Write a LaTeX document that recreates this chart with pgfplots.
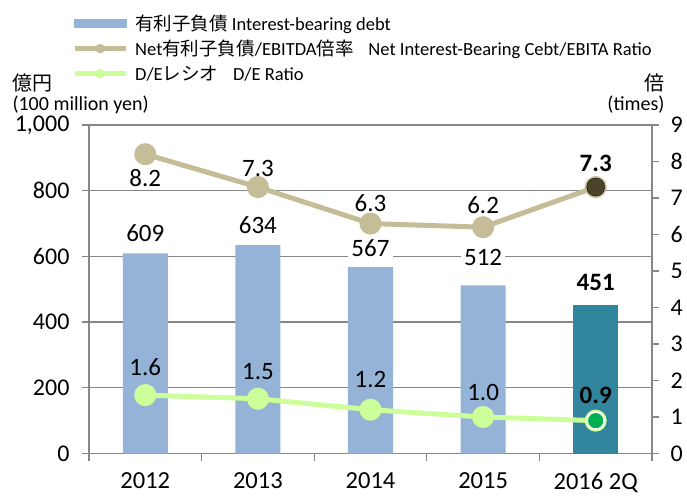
\documentclass[border=0pt]{standalone}
\usepackage{fontspec}
\setmainfont{Carlito}
\newfontfamily\jp{Noto Sans CJK JP}
\usepackage{pgfplots}
\pgfplotsset{compat=1.18}
\usepackage{pgfplotstable}

\definecolor{barblue}{HTML}{95B3D7}
\definecolor{barteal}{HTML}{31859C}
\definecolor{tanc}{HTML}{C4BD97}
\definecolor{darkc}{HTML}{4A452A}
\definecolor{lgreen}{HTML}{CCFF99}
\definecolor{dgreen}{HTML}{00B050}
\definecolor{gridc}{HTML}{878787}

% debt in 100 million yen, dy = label offset in pt
\pgfplotstableread{
x y dy
0 609 20
1 634 20
2 567 19
3 512 28
4 451 23
}\debt
\pgfplotstableread{
x y dy
0 8.2 -24
1 7.3 19
2 6.3 20
3 6.2 22
4 7.3 24
}\net
\pgfplotstableread{
x y dy
0 1.6 28
1 1.5 27
2 1.2 30
3 1.0 25
4 0.9 25
}\de

\tikzset{lab/.style={font=\fontsize{25}{30}\selectfont, text=black, anchor=center}}

\begin{document}
\begin{tikzpicture}
\pgfplotsset{
  base/.style={
    scale only axis, width=563pt, height=328.5pt,
    xmin=-0.5, xmax=4.5, clip=false,
    tick align=outside, major tick length=7pt, minor tick length=7pt,
    tick label style={font=\fontsize{24}{28}\selectfont},
    /pgf/number format/assume math mode=true,
    axis line style={-, draw=gridc, line width=1.3pt},
    every tick/.style={draw=gridc, line width=1.3pt},
  },
}
\begin{axis}[base,
  axis x line*=bottom, axis y line*=left,
  ymin=0, ymax=1000, ytick={0,200,...,1000},
  scaled y ticks=false, /pgf/number format/1000 sep={,},
  ymajorgrids, grid style={gridc, line width=1.3pt},
  xtick={0,...,4}, xticklabels={2012,2013,2014,2015,2016 2Q},
  minor xtick={-0.5,0.5,...,4.5},
  major x tick style={draw=none},
  xticklabel style={yshift=-9pt, font=\fontsize{24.5}{26}\selectfont},
  yticklabel style={xshift=-9pt},
]
\addplot[ybar, bar width=0.4, bar shift=0pt, fill=barblue, draw=none,
  skip coords between index={4}{5},
  nodes near coords={\pgfmathprintnumber[fixed,precision=0]{\pgfplotspointmeta}},
  visualization depends on={\thisrow{dy}\as\labdy},
  every node near coord/.append style={lab, fill=white, inner sep=3pt, yshift=\labdy pt}]
  table[x=x,y=y]{\debt};
\addplot[ybar, bar width=0.4, bar shift=0pt, fill=barteal, draw=none,
  skip coords between index={0}{4},
  nodes near coords={\pgfmathprintnumber[fixed,precision=0]{\pgfplotspointmeta}},
  visualization depends on={\thisrow{dy}\as\labdy},
  every node near coord/.append style={lab, font=\fontsize{25}{30}\selectfont\bfseries, yshift=\labdy pt}]
  table[x=x,y=y]{\debt};
\end{axis}

\begin{axis}[base,
  axis y line*=right, axis x line=none,
  ymin=0, ymax=9, ytick={0,...,9},
  yticklabel style={xshift=8pt},
  legend cell align=left,
  legend style={draw=none, fill=none, at={(axis description cs:-0.0302,1.343)},
    anchor=north west, inner sep=0pt, font=\fontsize{18.5}{21}\selectfont,
    row sep=4.5pt, column sep=5pt},
]
\addlegendimage{legend image code/.code={\fill[barblue] (0pt,-4pt) rectangle (51pt,4pt);}}
\addlegendentry{{\jp 有利子負債} Interest-bearing debt}
\addlegendimage{legend image code/.code={\draw[tanc, line width=5pt] (0pt,0pt) -- (51pt,0pt); \fill[tanc] (25.5pt,0pt) circle (4.5pt);}}
\addlegendentry{Net{\jp 有利子負債}/EBITDA{\jp 倍率}\hspace{0.8em}Net Interest-Bearing Cebt/EBITA Ratio}
\addlegendimage{legend image code/.code={\draw[lgreen, line width=5pt] (0pt,0pt) -- (51pt,0pt); \fill[lgreen] (25.5pt,0pt) circle (4.5pt);}}
\addlegendentry{D/E{\jp レシオ}\hspace{0.8em}D/E Ratio}

% Net debt / EBITDA
\addplot[forget plot, tanc, line width=5pt, mark=*, mark size=8.5pt,
  mark options={draw=none, fill=tanc}] table[x=x,y=y]{\net};
\addplot[forget plot, draw=none, mark=none,
  skip coords between index={4}{5},
  nodes near coords={\pgfmathprintnumber[fixed,fixed zerofill,precision=1]{\pgfplotspointmeta}},
  visualization depends on={\thisrow{dy}\as\labdy},
  every node near coord/.append style={lab, yshift=\labdy pt}]
  table[x=x,y=y]{\net};
\addplot[forget plot, only marks, mark=*, mark size=9pt,
  mark options={draw=none, fill=darkc},
  skip coords between index={0}{4},
  nodes near coords={\pgfmathprintnumber[fixed,fixed zerofill,precision=1]{\pgfplotspointmeta}},
  visualization depends on={\thisrow{dy}\as\labdy},
  every node near coord/.append style={lab, font=\fontsize{25}{30}\selectfont\bfseries, yshift=\labdy pt}]
  table[x=x,y=y]{\net};

% D/E ratio
\addplot[forget plot, lgreen, line width=5pt, mark=*, mark size=8.5pt,
  mark options={draw=none, fill=lgreen}] table[x=x,y=y]{\de};
\addplot[forget plot, draw=none, mark=none,
  skip coords between index={4}{5},
  nodes near coords={\pgfmathprintnumber[fixed,fixed zerofill,precision=1]{\pgfplotspointmeta}},
  visualization depends on={\thisrow{dy}\as\labdy},
  every node near coord/.append style={lab, yshift=\labdy pt}]
  table[x=x,y=y]{\de};
\addplot[forget plot, only marks, mark=*, mark size=8.5pt,
  mark options={draw=white, line width=1.5pt, fill=dgreen},
  skip coords between index={0}{4},
  nodes near coords={\pgfmathprintnumber[fixed,fixed zerofill,precision=1]{\pgfplotspointmeta}},
  visualization depends on={\thisrow{dy}\as\labdy},
  every node near coord/.append style={lab, font=\fontsize{25}{30}\selectfont\bfseries, yshift=\labdy pt}]
  table[x=x,y=y]{\de};
\end{axis}

\node[anchor=west, font={\jp\fontsize{20}{24}\selectfont}] at (-80pt,371pt) {億円};
\node[anchor=west, font=\fontsize{20}{24}\selectfont] at (-80pt,349pt) {(100 million yen)};
\node[anchor=east, font={\jp\fontsize{20}{24}\selectfont}] at (579pt,371pt) {倍};
\node[anchor=east, font=\fontsize{20}{24}\selectfont] at (579pt,349pt) {(times)};

\pgfresetboundingbox
\path[use as bounding box] (-89pt,-41.5pt) rectangle (598pt,453.5pt);
\end{tikzpicture}
\end{document}
